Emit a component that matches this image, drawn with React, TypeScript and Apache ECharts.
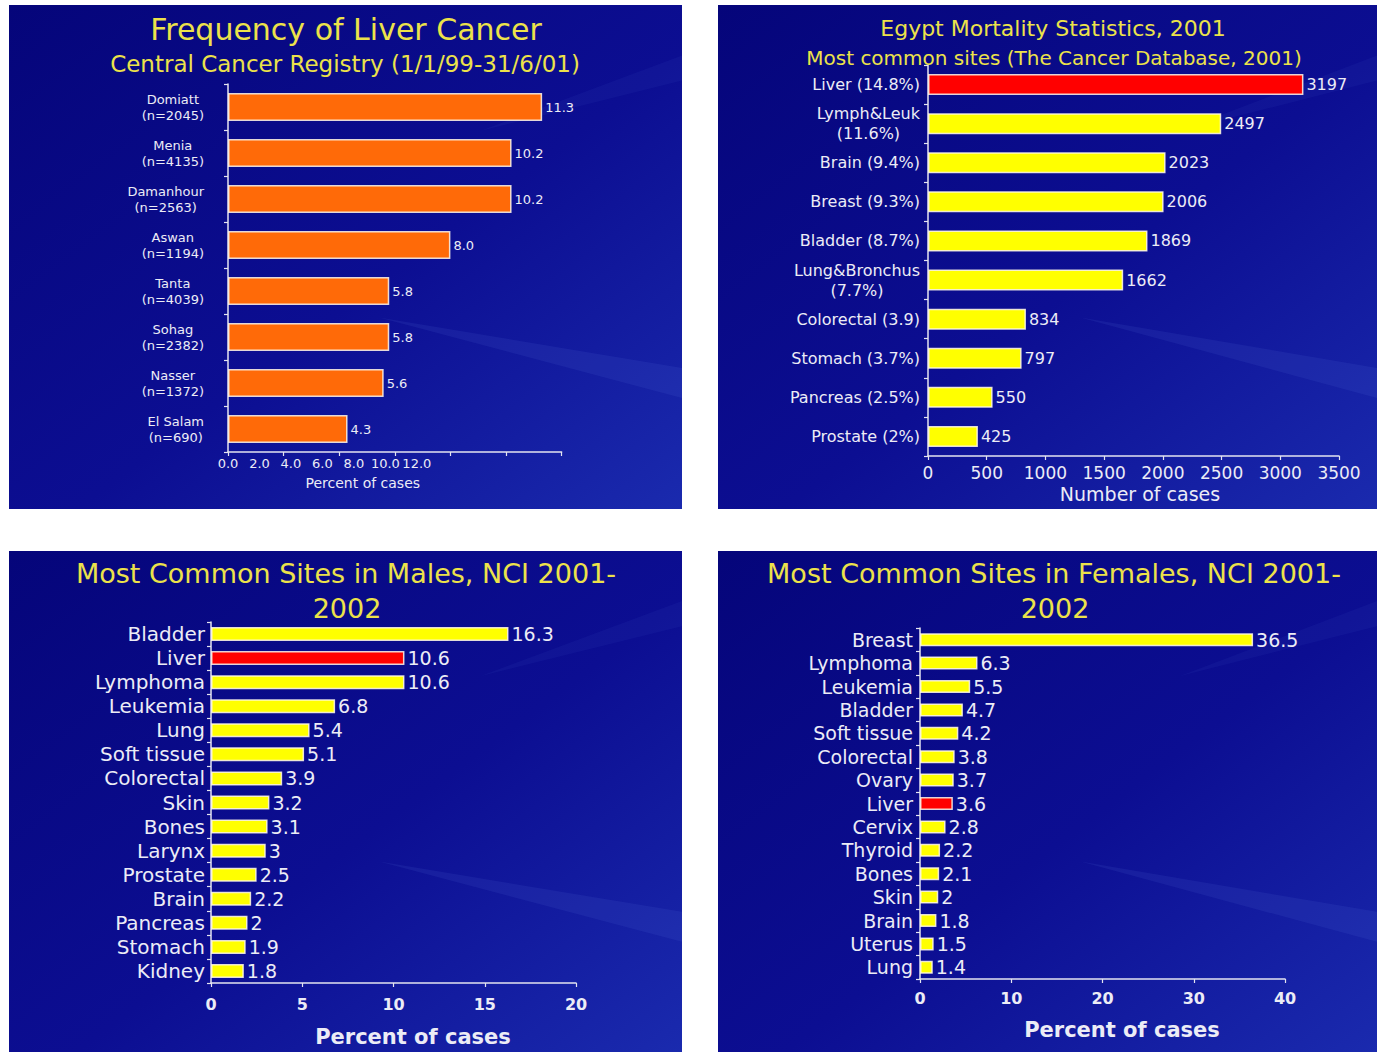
import React, { useEffect, useRef } from 'react';
import * as echarts from 'echarts';

const FONT = '"DejaVu Sans", "Liberation Sans", Arial, sans-serif';
const TITLE_COLOR = '#ece24a';
const TEXT_COLOR = '#ececf6';
const AXIS_COLOR = '#e4e4f0';
const ORANGE = '#ff6a08';
const YELLOW = '#ffff00';
const RED = '#ff0000';

// Panel 1: Frequency of Liver Cancer
const registryCats = [
  'Domiatt\n(n=2045)',
  'Menia\n(n=4135)',
  'Damanhour\n(n=2563)',
  'Aswan\n(n=1194)',
  'Tanta\n(n=4039)',
  'Sohag\n(n=2382)',
  'Nasser\n(n=1372)',
  'El Salam\n(n=690)',
];
const registryVals = [11.3, 10.2, 10.2, 8.0, 5.8, 5.8, 5.6, 4.3];

// Panel 2: Egypt Mortality Statistics
const mortalityCats = [
  'Liver (14.8%)',
  'Lymph&Leuk\n(11.6%)',
  'Brain (9.4%)',
  'Breast (9.3%)',
  'Bladder (8.7%)',
  'Lung&Bronchus\n(7.7%)',
  'Colorectal (3.9)',
  'Stomach (3.7%)',
  'Pancreas (2.5%)',
  'Prostate (2%)',
];
const mortalityVals = [3197, 2497, 2023, 2006, 1869, 1662, 834, 797, 550, 425];

// Panel 3: Males
const maleCats = [
  'Bladder', 'Liver', 'Lymphoma', 'Leukemia', 'Lung', 'Soft tissue', 'Colorectal',
  'Skin', 'Bones', 'Larynx', 'Prostate', 'Brain', 'Pancreas', 'Stomach', 'Kidney',
];
const maleVals = [16.3, 10.6, 10.6, 6.8, 5.4, 5.1, 3.9, 3.2, 3.1, 3, 2.5, 2.2, 2, 1.9, 1.8];

// Panel 4: Females
const femaleCats = [
  'Breast', 'Lymphoma', 'Leukemia', 'Bladder', 'Soft tissue', 'Colorectal', 'Ovary',
  'Liver', 'Cervix', 'Thyroid', 'Bones', 'Skin', 'Brain', 'Uterus', 'Lung',
];
const femaleVals = [36.5, 6.3, 5.5, 4.7, 4.2, 3.8, 3.7, 3.6, 2.8, 2.2, 2.1, 2, 1.8, 1.5, 1.4];

const registryTicks = { min: 0, max: 12, interval: 2 };
const mortalityTicks = { min: 0, max: 3500, interval: 500 };
const maleTicks = { min: 0, max: 20, interval: 5 };
const femaleTicks = { min: 0, max: 40, interval: 10 };

const panels = [
  { x: 9, y: 5, w: 673, h: 504 },
  { x: 718, y: 5, w: 659, h: 504 },
  { x: 9, y: 551, w: 673, h: 501 },
  { x: 718, y: 551, w: 659, h: 501 },
];

const liverColor = (base: string) => (p: any) =>
  String(p.name).startsWith('Liver') ? RED : base;

const richLabel = (fontSize: number, lineHeight: number) => ({
  color: TEXT_COLOR,
  fontFamily: FONT,
  formatter: (v: string) =>
    v
      .split('\n')
      .map((s) => `{c|${s}}`)
      .join('\n'),
  rich: {
    c: {
      align: 'center',
      fontSize,
      lineHeight,
      color: TEXT_COLOR,
      fontFamily: FONT,
    },
  },
});

function catAxis(gridIndex: number, data: string[], margin: number, fs: number, lh: number) {
  return {
    type: 'category',
    gridIndex,
    data,
    inverse: true,
    axisLine: { show: true, lineStyle: { color: AXIS_COLOR, width: 1.5 } },
    axisTick: { show: true, length: 4, lineStyle: { color: AXIS_COLOR, width: 1.2 } },
    splitLine: { show: false },
    axisLabel: { margin, align: 'right', ...richLabel(fs, lh) },
  };
}

function valAxis(
  gridIndex: number,
  ticks: { min: number; max: number; interval: number },
  label: any,
  name: string,
  nameGap: number,
  nameStyle: any,
) {
  return {
    type: 'value',
    gridIndex,
    min: ticks.min,
    max: ticks.max,
    interval: ticks.interval,
    position: 'bottom',
    axisLine: { show: true, lineStyle: { color: AXIS_COLOR, width: 1.5 } },
    axisTick: { show: true, length: 4, lineStyle: { color: AXIS_COLOR, width: 1.2 } },
    splitLine: { show: false },
    axisLabel: label,
    name,
    nameLocation: 'middle',
    nameGap,
    nameTextStyle: nameStyle,
  };
}

function barSeries(
  xAxisIndex: number,
  yAxisIndex: number,
  data: number[],
  base: string,
  barWidth: number,
  fontSize: number,
  formatter: (p: any) => string,
) {
  return {
    type: 'bar',
    xAxisIndex,
    yAxisIndex,
    data,
    barWidth,
    itemStyle: {
      color: liverColor(base),
      borderColor: 'rgba(255,248,235,0.85)',
      borderWidth: 1.5,
    },
    label: {
      show: true,
      position: 'right',
      distance: 3,
      color: TEXT_COLOR,
      fontFamily: FONT,
      fontSize,
      formatter,
    },
  };
}

export default function App() {
  const ref = useRef<HTMLDivElement>(null);

  useEffect(() => {
    document.body.style.margin = '0';
    const chart = echarts.init(ref.current!, undefined, { renderer: 'svg' });

    const backgrounds: any[] = [];
    panels.forEach((p) => {
      backgrounds.push({
        type: 'rect',
        z: -100,
        shape: { x: p.x, y: p.y, width: p.w, height: p.h },
        style: {
          fill: new echarts.graphic.LinearGradient(0, 0, 1, 1, [
            { offset: 0, color: '#05057a' },
            { offset: 0.55, color: '#0c0e92' },
            { offset: 1, color: '#1a2aae' },
          ]),
        },
        silent: true,
      });
      backgrounds.push({
        type: 'polygon',
        z: -99,
        shape: {
          points: [
            [p.x + p.w * 0.55, p.y + p.h * 0.62],
            [p.x + p.w, p.y + p.h * 0.72],
            [p.x + p.w, p.y + p.h * 0.78],
          ],
        },
        style: { fill: 'rgba(110,140,240,0.10)' },
        silent: true,
      });
      backgrounds.push({
        type: 'polygon',
        z: -99,
        shape: {
          points: [
            [p.x + p.w * 0.7, p.y + p.h * 0.25],
            [p.x + p.w, p.y + p.h * 0.1],
            [p.x + p.w, p.y + p.h * 0.15],
          ],
        },
        style: { fill: 'rgba(110,140,240,0.06)' },
        silent: true,
      });
    });

    const title = (text: string, x: number, y: number, size: number) => ({
      type: 'text',
      z: 10,
      x,
      y,
      style: {
        text,
        fill: TITLE_COLOR,
        fontFamily: FONT,
        fontSize: size,
        textAlign: 'center',
        textVerticalAlign: 'middle',
      },
      silent: true,
    });

    const titles = [
      title('Frequency of Liver Cancer', 346, 29, 30),
      title('Central Cancer Registry (1/1/99-31/6/01)', 345, 64, 23),
      title('Egypt Mortality Statistics, 2001', 1053, 28, 22),
      title('Most common sites (The Cancer Database, 2001)', 1054, 58, 20),
      title('Most Common Sites in Males, NCI 2001-', 346, 573, 27),
      title('2002', 347, 608, 27),
      title('Most Common Sites in Females, NCI 2001-', 1054, 573, 27),
      title('2002', 1055, 608, 27),
    ];

    const regular = (fs: number, margin: number, extra: any = {}) => ({
      color: TEXT_COLOR,
      fontFamily: FONT,
      fontSize: fs,
      margin,
      ...extra,
    });

    const option: any = {
      animation: false,
      backgroundColor: '#ffffff',
      graphic: { elements: [...backgrounds, ...titles] },
      grid: [
        { left: 228, top: 84, width: 333.6, height: 368 },
        { left: 928, top: 65, width: 411, height: 391 },
        { left: 211, top: 622, width: 365, height: 361 },
        { left: 920, top: 628, width: 365, height: 351 },
      ],
      xAxis: [
        valAxis(0, registryTicks, { show: false }, 'Percent of cases', 24, {
          color: TEXT_COLOR,
          fontFamily: FONT,
          fontSize: 14,
          padding: [0, 64, 0, 0],
        }),
        {
          type: 'value',
          gridIndex: 0,
          min: 0,
          max: 21.2,
          interval: 2,
          position: 'bottom',
          axisLine: { show: false },
          axisTick: { show: false },
          splitLine: { show: false },
          axisLabel: regular(13, 5, {
            formatter: (v: number) => (v <= registryTicks.max ? v.toFixed(1) : ''),
          }),
        },
        valAxis(
          1,
          mortalityTicks,
          regular(17, 8, { formatter: (v: number) => String(v) }),
          'Number of cases',
          28,
          {
            color: TEXT_COLOR,
            fontFamily: FONT,
            fontSize: 19,
            padding: [0, 0, 0, 13],
          },
        ),
        valAxis(2, maleTicks, regular(16, 13, { fontWeight: 'bold' }), 'Percent of cases', 43, {
          color: TEXT_COLOR,
          fontFamily: FONT,
          fontSize: 21,
          fontWeight: 'bold',
          padding: [0, 0, 0, 39],
        }),
        valAxis(3, femaleTicks, regular(16, 11, { fontWeight: 'bold' }), 'Percent of cases', 40, {
          color: TEXT_COLOR,
          fontFamily: FONT,
          fontSize: 21,
          fontWeight: 'bold',
          padding: [0, 0, 0, 39],
        }),
      ],
      yAxis: [
        catAxis(0, registryCats, 24, 13, 16),
        catAxis(1, mortalityCats, 8, 16, 20),
        catAxis(2, maleCats, 6, 20, 22),
        catAxis(3, femaleCats, 7, 19, 22),
      ],
      series: [
        barSeries(0, 0, registryVals, ORANGE, 28, 13, (p: any) => Number(p.value).toFixed(1)),
        barSeries(2, 1, mortalityVals, YELLOW, 21, 16, (p: any) => String(p.value)),
        barSeries(3, 2, maleVals, YELLOW, 14, 19, (p: any) => String(p.value)),
        barSeries(4, 3, femaleVals, YELLOW, 13, 19, (p: any) => String(p.value)),
      ],
    };

    chart.setOption(option);
    return () => chart.dispose();
  }, []);

  return <div ref={ref} style={{ width: 1377, height: 1052 }} />;
}
